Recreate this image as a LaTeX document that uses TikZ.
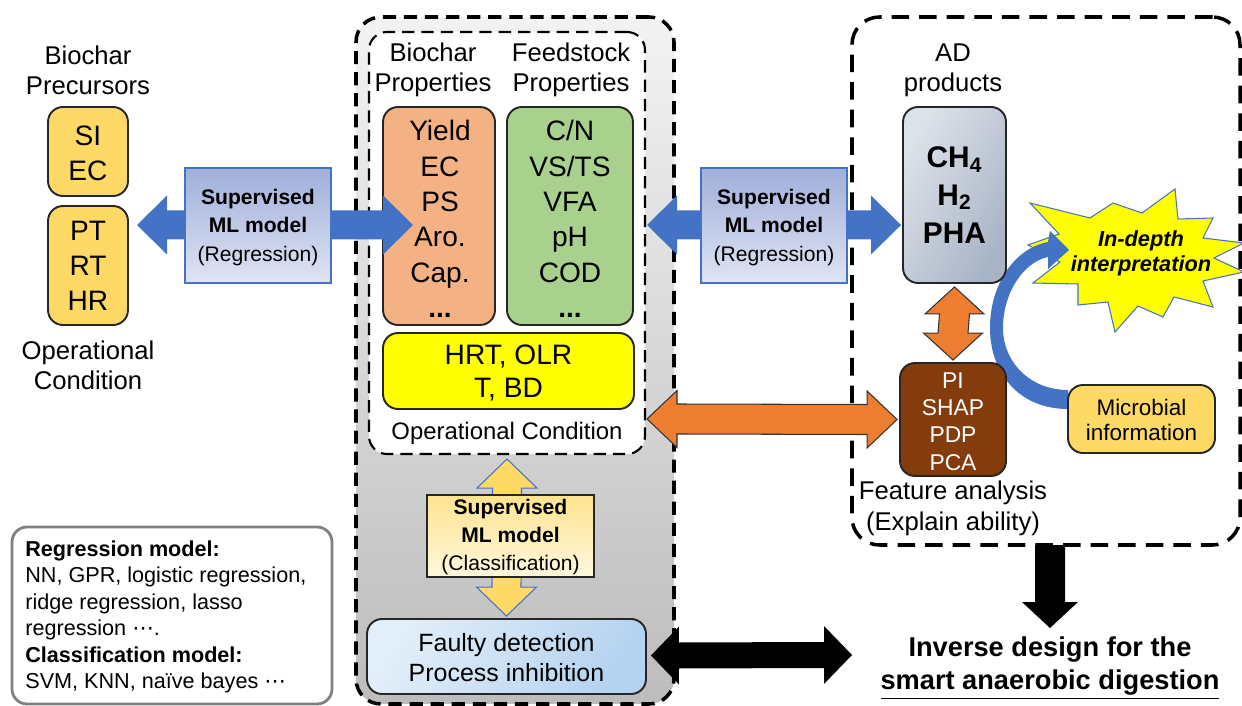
\documentclass[tikz,border=0pt]{standalone}
\usepackage{fontspec}
\setmainfont{Liberation Sans}
\newfontfamily\djv{DejaVu Sans}
\usetikzlibrary{calc,fit}

\definecolor{gold}{HTML}{FFD966}
\definecolor{peach}{HTML}{F4B183}
\definecolor{leaf}{HTML}{A9D18E}
\definecolor{lemon}{HTML}{FFFF00}
\definecolor{accblue}{HTML}{4472C4}
\definecolor{accorange}{HTML}{ED7D31}
\definecolor{rust}{HTML}{843C0C}
\definecolor{framegray}{HTML}{808080}
\definecolor{supdark}{HTML}{A0AFDA}
\definecolor{suplight}{HTML}{DFE4F3}
\definecolor{slatelight}{HTML}{DDE2E9}
\definecolor{slatedark}{HTML}{A8B4C6}
\definecolor{skylight}{HTML}{E2EEF9}
\definecolor{skydark}{HTML}{B4D3F0}
\definecolor{creamdark}{HTML}{FFE38F}
\definecolor{creamlight}{HTML}{FFF8DC}

% horizontal block arrow with two heads: style, left tip, right tip, shaft half, head half, head length
\newcommand\dblharrow[6]{%
  \path[#1] (#2) -- ($(#2)+(#6,-#5)$) -- ($(#2)+(#6,-#4)$) -- ($(#3)+(-#6,-#4)$)
    -- ($(#3)+(-#6,-#5)$) -- (#3) -- ($(#3)+(-#6,#5)$) -- ($(#3)+(-#6,#4)$)
    -- ($(#2)+(#6,#4)$) -- ($(#2)+(#6,#5)$) -- cycle;}
% vertical block arrow with two heads: style, top tip, bottom tip, shaft half, head half, head length
\newcommand\dblvarrow[6]{%
  \path[#1] (#2) -- ($(#2)+(#5,#6)$) -- ($(#2)+(#4,#6)$) -- ($(#3)+(#4,-#6)$)
    -- ($(#3)+(#5,-#6)$) -- (#3) -- ($(#3)+(-#5,-#6)$) -- ($(#3)+(-#4,-#6)$)
    -- ($(#2)+(-#4,#6)$) -- ($(#2)+(-#5,#6)$) -- cycle;}

\begin{document}
\begin{tikzpicture}[x=0.02cm,y=-0.02cm,
  hdr/.style={font=\fontsize{14.6}{17}\selectfont, align=center, inner sep=0},
  big/.style={font=\fontsize{16}{20}\selectfont, align=center, inner sep=0},
  txt/.style={align=center, inner sep=0},
  panel/.style={draw=black!85, line width=1.1pt, rounded corners=0.3cm, inner sep=0},
  supbox/.style={draw=accblue, line width=0.8pt, top color=supdark,
    bottom color=suplight, inner sep=0},
  suptxt/.style={txt, font=\fontsize{12}{16}\selectfont},
  bluearrow/.style={fill=accblue},
  orangearrow/.style={fill=accorange, draw=black!80, line width=0.6pt},
  yellowarrow/.style={fill=gold, draw=accblue, line width=0.6pt},
  blackarrow/.style={fill=black},
  bigframe/.style={draw=black, line width=2pt, dash pattern=on 7.5pt off 4.5pt, inner sep=0},
]
\useasboundingbox (0,0) rectangle (1242,706);

% ---------- frames ----------
\node[bigframe, rounded corners=0.5cm, top color=black!5, bottom color=black!26,
      fit={(356,17)(674,704)}] (core) {};
\node[draw=black, line width=1.2pt, dash pattern=on 7pt off 4pt, inner sep=0,
      rounded corners=0.36cm, fill=white, fit={(369,32)(645,454)}] (inner) {};
\node[bigframe, dash pattern=on 10pt off 5.7pt, rounded corners=0.55cm,
      fit={(852,17)(1240,545)}] (adframe) {};
\node[draw=framegray, line width=1.6pt, rounded corners=0.3cm, fill=white, inner sep=0,
      fit={(12,527)(332,704)}] (legend) {};
\node[anchor=west, align=left, inner sep=0, font=\fontsize{12.3}{15.1}\selectfont]
  (legendtxt) at (25,617) {\textbf{Regression model:}\\NN, GPR, logistic regression,\\
  ridge regression, lasso\\regression {\djv ⋯}.\\\textbf{Classification model:}\\
  SVM, KNN, naïve bayes {\djv ⋯}};

% ---------- biochar precursors ----------
\node[hdr] (bpre) at (88,70) {Biochar\\Precursors};
\node[panel, fill=gold, fit={(48,107)(128,196)}] (siec) {};
\node[big] (siect) at ($(siec.center)+(0,2)$) {SI\\EC};
\node[panel, fill=gold, fit={(48,206)(128,325)}] (ptrt) {};
\node[big] (ptrtt) at ($(ptrt.center)+(0,0)$) {PT\\RT\\HR};
\node[hdr] (opleft) at (88,365) {Operational\\Condition};

% ---------- properties ----------
\node[hdr] (bprop) at (433,70) {Biochar\\Properties};
\node[hdr] (fprop) at (571,70) {Feedstock\\Properties};
\node[panel, fill=peach, fit={(383,107)(495,325)}] (bioprop) {};
\node[txt, font=\fontsize{16}{20.1}\selectfont] (bioprott) at ($(bioprop.center)+(1,3)$)
  {Yield\\EC\\PS\\Aro.\\Cap.\\\textbf{...}};
\node[panel, fill=leaf, fit={(507,107)(633,325)}] (feedprop) {};
\node[txt, font=\fontsize{16}{20.1}\selectfont] (feedpropt) at ($(feedprop.center)+(0,3)$)
  {C/N\\VS/TS\\VFA\\pH\\COD\\\textbf{...}};
\node[panel, fill=lemon, fit={(383,333)(634,409)}] (opcond) {};
\node[txt, font=\fontsize{16}{18.7}\selectfont] (opcondt) at ($(opcond.center)+(0,2)$)
  {HRT, OLR\\T, BD};
\node[font=\fontsize{13.6}{16}\selectfont, inner sep=0] (opcap) at (507,433) {Operational Condition};

% ---------- in-depth interpretation ----------
\path[draw=accblue, line width=0.6pt, fill=lemon]
  (1030,203) -- (1090,218) -- (1113,203) -- (1142,213) -- (1175,189) -- (1178,219)
  -- (1213,218) -- (1203,238) -- (1244,243) -- (1214,258) -- (1244,272) -- (1203,281)
  -- (1213,307) -- (1174,297) -- (1163,317) -- (1138,306) -- (1115,332) -- (1108,302)
  -- (1078,305) -- (1078,284) -- (1033,283) -- (1060,262) -- (1028,245) -- (1059,234) -- cycle;
\node[txt, font=\fontsize{12.4}{14.2}\selectfont\bfseries\itshape]
  (indepth) at (1141,253) {In-depth\\interpretation};

% curved arrow from the microbial information to the interpretation
\path[fill=accblue]
  (1068,409) .. controls (1018,409) and (990,372) .. (990,328)
  .. controls (990,284) and (1015,248) .. (1048,242)
  -- (1050,231) -- (1069,250) -- (1048,269) -- (1048,257)
  .. controls (1024,262) and (1003,292) .. (1003,328)
  .. controls (1003,362) and (1030,390) .. (1068,390) -- cycle;

% ---------- AD products and feature analysis ----------
\node[hdr] (adp) at (953,70) {AD\\products};
\node[panel, left color=slatelight, right color=slatedark, shading angle=60,
      fit={(903,107)(1006,283)}] (ch4) {};
\node[txt, font=\fontsize{17}{21.5}\selectfont\bfseries] (ch4t) at ($(ch4.center)+(0,0)$)
  {CH\textsubscript{4}\\H\textsubscript{2}\\PHA};
\node[panel, fill=rust, fit={(900,363)(1006,476)}] (feat) {};
\node[txt, text=white, font=\fontsize{13}{15.6}\selectfont] (featt) at ($(feat.center)+(0,2)$)
  {PI\\SHAP\\PDP\\PCA};
\node[hdr, font=\fontsize{14.6}{17.6}\selectfont] (featcap) at (953,508) {Feature analysis\\(Explain ability)};
\node[panel, fill=gold, fit={(1068,385)(1215,453)}] (micro) {};
\node[txt, font=\fontsize{12.8}{14.2}\selectfont] (microt) at ($(micro.center)+(0,1)$)
  {Microbial\\information};

% ---------- fault detection ----------
\node[panel, left color=skylight, right color=skydark, shading angle=60,
      fit={(367,619)(646,694)}] (faulty) {};
\node[txt, font=\fontsize{14.2}{17.5}\selectfont] (faultyt) at ($(faulty.center)+(0,1)$)
  {Faulty detection\\Process inhibition};

% arrow end points
\coordinate (b1l) at (137,225);
\coordinate (b1r) at (413,225);
\coordinate (b2l) at (647,225);
\coordinate (b2r) at ($(ch4.west)+(-1,30)$);
\coordinate (o1l) at (647,419);
\coordinate (o1r) at ($(feat.west)+(-2,0)$);
\coordinate (o2t) at ($(ch4.south)+(0,3)$);
\coordinate (o2b) at ($(feat.north)+(0,-2)$);
\coordinate (y1t) at ($(inner.south)+(0,4)$);
\coordinate (y1b) at ($(faulty.north)+(0,-2)$);
\coordinate (k1l) at ($(faulty.east)+(4,-1)$);
\coordinate (k1r) at (852,655);
\coordinate (k2t) at (1050,545);
\coordinate (k2b) at (1050,628);

\dblharrow{bluearrow}{b1l}{b1r}{14.5}{29.5}{30}
\dblharrow{bluearrow}{b2l}{b2r}{14.5}{29.5}{30}
\dblharrow{orangearrow}{o1l}{o1r}{15}{28.5}{30}
\dblvarrow{orangearrow}{o2t}{o2b}{15}{29.5}{27}
\dblvarrow{yellowarrow}{y1t}{y1b}{14.5}{30}{29}
\dblharrow{blackarrow}{k1l}{k1r}{13}{29}{28}
\path[blackarrow] ($(k2t)+(-15,0)$) -- ($(k2t)+(15,0)$) -- ($(k2b)+(15,-26)$)
  -- ($(k2b)+(28,-26)$) -- (k2b) -- ($(k2b)+(-28,-26)$) -- ($(k2b)+(-15,-26)$) -- cycle;

% ---------- supervised models ----------
\node[supbox, fit={(185,168)(331,283)}] (sup1) {};
\node[suptxt] (sup1t) at ($(sup1.center)+(0,2)$) {\textbf{Supervised}\\\textbf{ML model}\\(Regression)};
\node[supbox, fit={(701,168)(847,283)}] (sup2) {};
\node[suptxt] (sup2t) at ($(sup2.center)+(0,2)$) {\textbf{Supervised}\\\textbf{ML model}\\(Regression)};
\node[draw=black!85, line width=1pt, top color=creamdark, bottom color=creamlight,
      inner sep=0, fit={(427,495)(594,577)}] (sup3) {};
\node[suptxt] (sup3t) at ($(sup3.center)+(0,1)$) {\textbf{Supervised}\\\textbf{ML model}\\(Classification)};

% ---------- goal ----------
\node[txt, font=\fontsize{15.5}{18.7}\selectfont\bfseries]
  (goal) at (1050,668) {Inverse design for the\\\underline{smart anaerobic digestion}};
\end{tikzpicture}
\end{document}
